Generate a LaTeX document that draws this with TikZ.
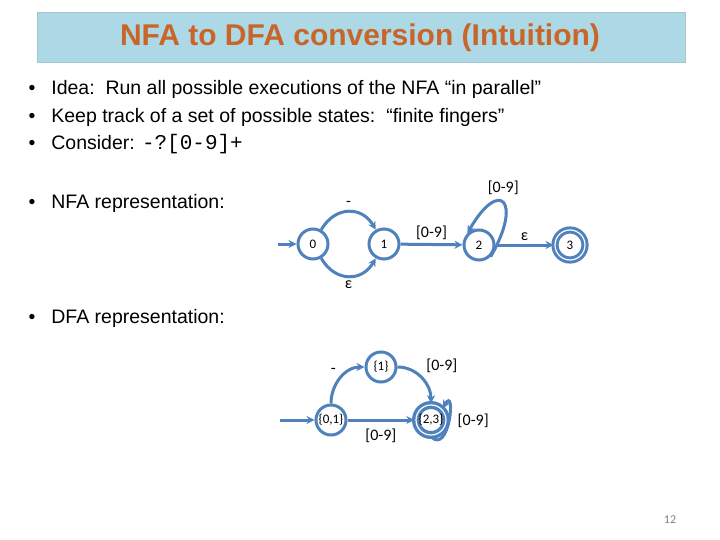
\documentclass[tikz,border=0pt]{standalone}
\usepackage{fontspec}
\setmainfont{Liberation Sans}
\newfontfamily\carfont{Carlito}
\newfontfamily\monofont{Liberation Mono}
\usetikzlibrary{arrows.meta}
\definecolor{sb}{HTML}{4F81BD}
\definecolor{tb}{HTML}{ADD8E6}
\definecolor{tor}{HTML}{C8662A}
\begin{document}
\begin{tikzpicture}[x=1pt,y=-1pt,
 st/.style={circle,draw=sb,line width=3pt,minimum size=30pt,inner sep=0pt,font=\carfont\fontsize{13}{13}\selectfont},
 acc/.style={st,double=white,double distance=1.2pt},
 ed/.style={draw=sb,line width=3pt,-{Stealth[length=8pt,width=8pt]}},
 lb/.style={font=\carfont\fontsize{16}{16}\selectfont},
 bl/.style={anchor=west,font=\fontsize{19.5}{19.5}\selectfont}]
\useasboundingbox (0,0) rectangle (720,540);
\node[draw=tb!80!gray,fill=tb,minimum width=648pt,minimum height=50pt,anchor=north west] (tbox) at (37,12) {};
\node[font=\bfseries\fontsize{30}{30}\selectfont,text=tor] (title) at (360,38) {NFA to DFA conversion (Intuition)};
\node[bl] (b1) at (25,89) {•\hspace{16pt}Idea:\ \ Run all possible executions of the NFA “in parallel”};
\node[bl] (b2) at (25,117) {•\hspace{16pt}Keep track of a set of possible states:\ \ “finite fingers”};
\node[bl] (b3) at (25,144) {•\hspace{16pt}Consider: {\monofont\fontsize{21}{21}\selectfont -?[0-9]+}};
\node[bl] (b4) at (25,203) {•\hspace{16pt}NFA representation:};
\node[bl] (b5) at (25,318) {•\hspace{16pt}DFA representation:};
% NFA
\node[st] (n0) at (313,244) {0};
\node[st] (n1) at (384,244) {1};
\node[st] (n2) at (479,245) {2};
\node[acc] (n3) at (570,245) {3};
\coordinate (ns) at (278,244);
\draw[ed] (ns) -- (n0);
\draw[ed] (n0) to[out=60,in=120,looseness=1.3] node[lb,above]{-} (n1);
\draw[ed] (n0) to[out=-60,in=-120,looseness=1.3] node[lb,below]{ε} (n1);
\draw[ed] (n1) -- node[lb,above]{[0-9]} (n2);
\draw[ed] (n2.south east) to[out=60,in=60,looseness=5] node[lb,above=4pt]{[0-9]} (n2.north west);
\draw[ed] (n2) -- node[lb,above]{ε} (n3);
% DFA
\node[st] (d0) at (331,420) {\{0,1\}};
\node[st] (d1) at (381,367) {\{1\}};
\node[acc,line width=3.4pt] (d2) at (431,420) {\{2,3\}};
\coordinate (ds) at (280,420);
\draw[ed] (ds) -- (d0);
\draw[ed] (d0) to[out=90,in=180] node[lb,above left]{-} (d1);
\draw[ed] (d1) to[out=0,in=90] node[lb,above right]{[0-9]} (d2);
\draw[ed] (d0) -- node[lb,below=4pt]{[0-9]} (d2);
\draw[ed] (d2.south) to[out=-45,in=60,looseness=2.2] node[lb,right=4pt]{[0-9]} (d2.north east);
\node[text=gray,font=\carfont\fontsize{12}{12}\selectfont] (pg) at (670,520) {12};
\end{tikzpicture}
\end{document}
